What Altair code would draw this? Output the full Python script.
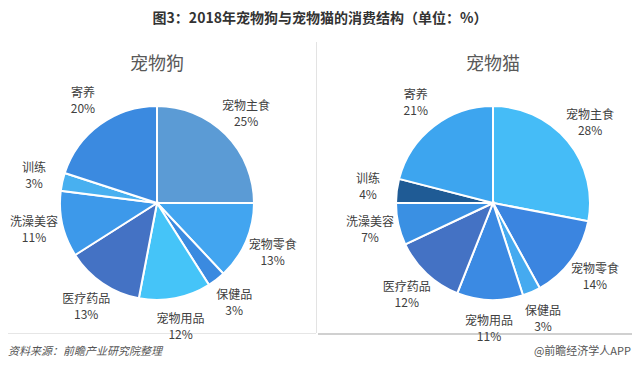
import altair as alt
import pandas as pd

FONT = "Noto Sans CJK SC"

categories = ["宠物主食", "宠物零食", "保健品", "宠物用品", "医疗药品", "洗澡美容", "训练", "寄养"]
dog_values = [25, 13, 3, 12, 13, 11, 3, 20]
cat_values = [28, 14, 3, 11, 12, 7, 4, 21]
dog_colors = ["#5b9bd5", "#42a5f0", "#3a8ae0", "#45c4f8", "#4472c4", "#3d99ea", "#48b0f0", "#3b8ae0"]
cat_colors = ["#45bcf7", "#3b85e0", "#45aaf0", "#3b8ae3", "#4472c4", "#3a90e3", "#1f5b95", "#3da5ef"]

main_title = "图3：2018年宠物狗与宠物猫的消费结构（单位：%）"
panel_titles = ["宠物狗", "宠物猫"]
source_text = "资料来源：前瞻产业研究院整理"
brand_text = "@前瞻经济学人APP"


def make_df(values, colors):
    return pd.DataFrame({
        "category": categories,
        "value": values,
        "order": list(range(len(categories))),
        "color": colors,
        "pct": [f"{v}%" for v in values],
    })


dog_df = make_df(dog_values, dog_colors)
cat_df = make_df(cat_values, cat_colors)

R = 97
LABEL_R = 126


def pie_layers(df, cx, cy):
    theta = alt.Theta("value:Q", stack=True)
    order = alt.Order("order:Q")
    arcs = alt.Chart(df).mark_arc(outerRadius=R, stroke="white", strokeWidth=2).encode(
        theta=theta, order=order,
        color=alt.Color("color:N", scale=None),
        x=alt.value(cx), y=alt.value(cy),
    )
    names = alt.Chart(df).mark_text(radius=LABEL_R, dy=-8, fontSize=12, color="#404040", font=FONT).encode(
        theta=theta, order=order, text="category:N",
        x=alt.value(cx), y=alt.value(cy),
    )
    pcts = alt.Chart(df).mark_text(radius=LABEL_R, dy=8, fontSize=12, color="#404040", font=FONT).encode(
        theta=theta, order=order, text="pct:N",
        x=alt.value(cx), y=alt.value(cy),
    )
    return [arcs, names, pcts]


one = pd.DataFrame({"k": [0]})

title = alt.Chart(one).mark_text(fontSize=14, fontWeight="bold", color="#333333", font=FONT,
                                 baseline="middle").encode(
    x=alt.value(312), y=alt.value(11), text=alt.value(main_title))

ptitle_dog = alt.Chart(one).mark_text(fontSize=18, color="#595959", font=FONT, baseline="middle").encode(
    x=alt.value(149), y=alt.value(57), text=alt.value(panel_titles[0]))
ptitle_cat = alt.Chart(one).mark_text(fontSize=18, color="#595959", font=FONT, baseline="middle").encode(
    x=alt.value(485), y=alt.value(57), text=alt.value(panel_titles[1]))

vline = alt.Chart(one).mark_rule(color="#e3e3e3", strokeWidth=1).encode(
    x=alt.value(308.5), y=alt.value(34), y2=alt.value(325))
hline_left = alt.Chart(one).mark_rule(color="#e6e6e6", strokeWidth=1).encode(
    x=alt.value(0), x2=alt.value(308), y=alt.value(325.5))
hline_right = alt.Chart(one).mark_rule(color="#d0d0d0", strokeWidth=2).encode(
    x=alt.value(310), x2=alt.value(624), y=alt.value(326))

src = alt.Chart(one).mark_text(fontSize=11, fontStyle="italic", color="#555555", font=FONT,
                               align="left", baseline="middle").encode(
    x=alt.value(0), y=alt.value(344), text=alt.value(source_text))
brand = alt.Chart(one).mark_text(fontSize=11, color="#555555", font=FONT,
                                 align="right", baseline="middle").encode(
    x=alt.value(623), y=alt.value(344), text=alt.value(brand_text))

layers = [vline, hline_left, hline_right] + pie_layers(dog_df, 149, 195) + pie_layers(cat_df, 485, 195) + \
    [title, ptitle_dog, ptitle_cat, src, brand]

chart = alt.layer(*layers).properties(
    width=624, height=354, autosize=alt.AutoSizeParams(type="none"), padding=0
).configure_view(stroke=None)

chart.save("out.html", embed_options={"renderer": "svg", "actions": False})
